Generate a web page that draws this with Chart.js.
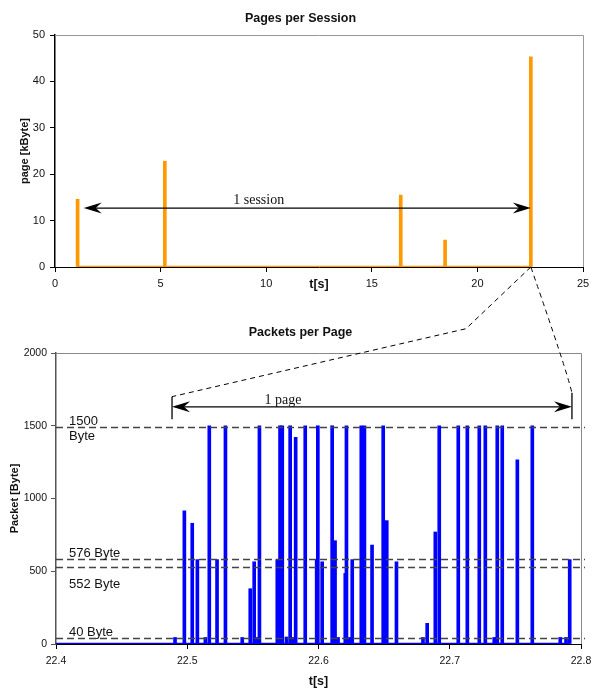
<!DOCTYPE html>
<html>
<head>
<meta charset="utf-8">
<script src="https://cdn.jsdelivr.net/npm/chart.js@4/dist/chart.umd.min.js"></script>
<style>
html, body { margin: 0; padding: 0; background: #fff; }
#wrap { position: relative; width: 601px; height: 689px; }
canvas { position: absolute; left: 0; }
</style>
</head>
<body>
<div id="wrap">
  <canvas id="sessionChart" width="601" height="300" style="top:0"></canvas>
  <canvas id="pageChart" width="601" height="379" style="top:310px"></canvas>
  <canvas id="overlay" width="601" height="689" style="top:0"></canvas>
</div>
<script>
// PAGES PER SESSION
const sessionTimes = [1.07, 5.2, 16.37, 18.47, 22.53];
const pageSizes = [14.6, 22.8, 15.5, 5.8, 45.3];
const sessionTimeTicks = [0, 5, 10, 15, 20, 25];
const pageSizeTicks = [0, 10, 20, 30, 40, 50];

// PACKETS PER PAGE
const packetTimes = [
    22.4907, 22.4978, 22.5038, 22.5077, 22.5138, 22.5168, 22.5227, 22.5291,
    22.5419, 22.5480, 22.5510, 22.5534, 22.5550, 22.5686, 22.5707, 22.5724,
    22.5756, 22.5784, 22.5803, 22.5826, 22.5899, 22.5986, 22.5995, 22.6028,
    22.6104, 22.6126, 22.6149, 22.6204, 22.6213, 22.6238, 22.6257, 22.6326,
    22.6350, 22.6408, 22.6493, 22.6520, 22.6594, 22.6796, 22.6828, 22.6890,
    22.6920, 22.7065, 22.7134, 22.7225, 22.7271, 22.7339, 22.7362, 22.7400,
    22.7515, 22.7629, 22.7842, 22.7886, 22.7914
];
const packetSizes = [
    45, 915, 830, 580, 45, 1500, 580, 1500,
    45, 380, 565, 45, 1500, 580, 1500, 1500,
    48, 1500, 45, 1420, 1500, 580, 1500, 565,
    1500, 710, 45, 485, 1500, 45, 580, 1500,
    1500, 680, 1500, 848, 565, 45, 142, 770,
    1500, 1500, 1500, 1500, 1500, 45, 1500, 1500,
    1265, 1500, 45, 45, 580
];
const packetTimeTicks = [22.4, 22.5, 22.6, 22.7, 22.8];
const packetSizeTicks = [0, 500, 1000, 1500, 2000];

// reference levels drawn as dashed lines
const refLevels = [1490, 583, 532, 38];
const refLabels = [['1500', 'Byte'], ['576 Byte'], ['552 Byte'], ['40 Byte']];
const refLabelBelow = [false, false, true, false];

// annotation spans
const sessionSpan = [1.36, 22.53];
const sessionArrowLevel = 12.7;
const pageSpan = [22.4884, 22.7931];
const pageArrowLevel = 1630;
const bracketTop = [1700, 1727];
const bracketBottom = 1545;
const connectorBend = { t: 22.7124, y: 2167 };

const orange = '#FF9900';
const blue = '#0000FF';
Chart.defaults.font.family = "'Liberation Sans', Arial, sans-serif";
Chart.defaults.color = '#111';

const framePlugin = {
    id: 'frame',
    beforeDatasetsDraw(chart, args, opts) {
        const a = chart.chartArea;
        const c = chart.ctx;
        c.save();
        c.strokeStyle = opts.color;
        c.lineWidth = 1;
        c.beginPath();
        c.moveTo(a.left, a.top + 0.5);
        c.lineTo(a.right + 0.5, a.top + 0.5);
        c.lineTo(a.right + 0.5, a.bottom);
        c.stroke();
        c.restore();
    }
};

function fixedTicks(list) {
    return function (scale) {
        scale.ticks = list.map(v => ({ value: v }));
    };
}

function axisX(min, max, list, h, size, pad, fmt) {
    return {
        type: 'linear', min: min, max: max, offset: false,
        afterBuildTicks: fixedTicks(list),
        afterFit: s => { s.height = h; },
        grid: { display: true, drawOnChartArea: false, offset: false, color: '#000', tickLength: 5 },
        border: { color: '#000', width: 1 },
        ticks: { font: { size: size }, padding: pad, maxRotation: 0, callback: fmt }
    };
}

function axisY(max, list, w, size, pad, lineColor) {
    return {
        min: 0, max: max,
        afterBuildTicks: fixedTicks(list),
        afterFit: s => { s.width = w; },
        grid: { display: true, drawOnChartArea: false, color: lineColor, tickLength: 5 },
        border: { color: lineColor, width: 1.5 },
        ticks: { font: { size: size }, padding: pad, callback: v => String(v) }
    };
}

// TOP CHART
const sessionChart = new Chart(document.getElementById('sessionChart'), {
    type: 'bar',
    data: {
        datasets: [{
            type: 'line',
            data: [{ x: sessionTimes[0], y: 0 }, { x: sessionTimes[sessionTimes.length - 1], y: 0 }],
            borderColor: orange,
            borderWidth: 2.5,
            pointRadius: 0
        }, {
            data: sessionTimes.map((t, i) => ({ x: t, y: pageSizes[i] })),
            backgroundColor: orange,
            barThickness: 3
        }]
    },
    options: {
        responsive: false,
        animation: false,
        layout: { padding: { left: 0, right: 18, top: 35, bottom: 0 } },
        plugins: { legend: { display: false }, tooltip: { enabled: false }, frame: { color: '#999' } },
        scales: {
            x: axisX(0, 25, sessionTimeTicks, 33, 11, 5, v => String(v)),
            y: axisY(50, pageSizeTicks, 55, 11, 5, '#000')
        }
    },
    plugins: [framePlugin]
});

// BOTTOM CHART
const pageChart = new Chart(document.getElementById('pageChart'), {
    type: 'bar',
    data: {
        datasets: [{
            type: 'line',
            data: [{ x: packetTimeTicks[0], y: 0 }, { x: packetTimes[packetTimes.length - 1], y: 0 }],
            borderColor: blue,
            borderWidth: 2.5,
            pointRadius: 0
        }, {
            data: packetTimes.map((t, i) => ({ x: t, y: packetSizes[i] })),
            backgroundColor: blue,
            barThickness: 3
        }]
    },
    options: {
        responsive: false,
        animation: false,
        layout: { padding: { left: 0, right: 20, top: 43, bottom: 0 } },
        plugins: { legend: { display: false }, tooltip: { enabled: false }, frame: { color: '#888' } },
        scales: {
            x: axisX(22.4, 22.8, packetTimeTicks, 45, 10.5, 6, v => v.toFixed(1)),
            y: axisY(2000, packetSizeTicks, 56, 10.5, 4, '#555')
        }
    },
    plugins: [framePlugin]
});

// OVERLAY: titles, reference lines, arrows, connectors
const ctx = document.getElementById('overlay').getContext('2d');
const offsets = new Map([[sessionChart, 0], [pageChart, 310]]);

function pt(chart, x, y) {
    return [chart.scales.x.getPixelForValue(x), offsets.get(chart) + chart.scales.y.getPixelForValue(y)];
}

function text(str, x, y, font, align, rot) {
    ctx.save();
    ctx.translate(x, y);
    if (rot) ctx.rotate(rot);
    ctx.font = font;
    ctx.fillStyle = '#111';
    ctx.textAlign = align || 'center';
    ctx.textBaseline = 'alphabetic';
    ctx.fillText(str, 0, 0);
    ctx.restore();
}

function arrowHead(x, y, dir) {
    ctx.beginPath();
    ctx.moveTo(x, y);
    ctx.lineTo(x - dir * 18, y - 5.5);
    ctx.lineTo(x - dir * 12, y);
    ctx.lineTo(x - dir * 18, y + 5.5);
    ctx.closePath();
    ctx.fill();
}

function doubleArrow(chart, span, level) {
    const [x1, y] = pt(chart, span[0], level);
    const [x2] = pt(chart, span[1], level);
    ctx.save();
    ctx.strokeStyle = '#000';
    ctx.fillStyle = '#000';
    ctx.lineWidth = 1.3;
    ctx.beginPath();
    ctx.moveTo(x1 + 10, y);
    ctx.lineTo(x2 - 10, y);
    ctx.stroke();
    arrowHead(x1, y, -1);
    arrowHead(x2, y, 1);
    ctx.restore();
}

const bold = "bold 12.5px 'Liberation Sans', Arial, sans-serif";
const axisFont = "bold 11px 'Liberation Sans', Arial, sans-serif";
const serif = "14px 'Liberation Serif', 'Times New Roman', serif";

// titles
text('Pages per Session', 300.5, 22, bold);
text('Packets per Page', 300.5, 336, bold);

[[sessionChart, 'page [kByte]', 24, 288], [pageChart, 'Packet [Byte]', 14, 685]].forEach(([chart, yTitle, yx, tBase]) => {
    const a = chart.chartArea;
    const off = offsets.get(chart);
    text(yTitle, yx + 4, off + (a.top + a.bottom) / 2, axisFont, 'center', -Math.PI / 2);
    text('t[s]', (a.left + a.right) / 2, tBase, bold);
});

// reference lines in the packet chart
ctx.save();
ctx.strokeStyle = '#444';
ctx.lineWidth = 1.6;
ctx.setLineDash([7, 4]);
refLevels.forEach((lvl, i) => {
    const a = pageChart.chartArea;
    const y = Math.round(pt(pageChart, 22.4, lvl)[1]) + 0.5;
    ctx.beginPath();
    ctx.moveTo(a.left, y);
    ctx.lineTo(a.right + 4, y);
    ctx.stroke();
    const lx = a.left + 13;
    const font = "13px 'Liberation Sans', Arial, sans-serif";
    if (refLabels[i].length === 2) {
        text(refLabels[i][0], lx, y - 3, font, 'left');
        text(refLabels[i][1], lx, y + 12, font, 'left');
    } else if (refLabelBelow[i]) {
        text(refLabels[i][0], lx, y + 20, font, 'left');
    } else {
        text(refLabels[i][0], lx, y - 3, font, 'left');
    }
});
ctx.restore();

// session arrow
doubleArrow(sessionChart, sessionSpan, sessionArrowLevel);
{
    const [xa, ya] = pt(sessionChart, (sessionSpan[0] + sessionSpan[1]) / 2 - 2.3, sessionArrowLevel);
    text('1 session', xa, ya - 4, serif);
}

// page arrow with brackets
doubleArrow(pageChart, pageSpan, pageArrowLevel);
{
    const [xa, ya] = pt(pageChart, pageSpan[0] + 0.0845, pageArrowLevel);
    text('1 page', xa, ya - 3, serif);
}
ctx.save();
ctx.strokeStyle = '#000';
ctx.lineWidth = 1.3;
pageSpan.forEach((t, i) => {
    const [x, yTop] = pt(pageChart, t, bracketTop[i]);
    const [, yBot] = pt(pageChart, t, bracketBottom);
    ctx.beginPath();
    ctx.moveTo(x, yTop);
    ctx.lineTo(x, yBot);
    ctx.stroke();
});

// dashed zoom connectors from the last page of the session
const [sx, sy] = pt(sessionChart, sessionTimes[sessionTimes.length - 1], 0);
const [bx, by] = pt(pageChart, connectorBend.t, connectorBend.y);
const [lx, ly] = pt(pageChart, pageSpan[0], bracketTop[0]);
const [rx, ry] = pt(pageChart, pageSpan[1], bracketTop[1]);
ctx.lineWidth = 1;
ctx.setLineDash([5, 4]);
ctx.beginPath();
ctx.moveTo(sx, sy);
ctx.lineTo(bx, by);
ctx.lineTo(lx, ly);
ctx.stroke();
ctx.beginPath();
ctx.moveTo(sx, sy);
ctx.quadraticCurveTo(sx + (rx - sx) * 0.85, sy + (ry - sy) * 0.8, rx, ry);
ctx.stroke();
ctx.restore();
</script>
</body>
</html>
